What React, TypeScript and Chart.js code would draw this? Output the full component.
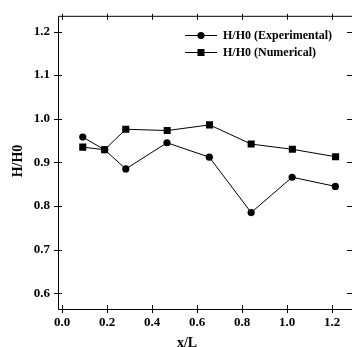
import React, { useEffect, useRef } from "react";
import { Chart, registerables } from "chart.js";

Chart.register(...registerables);

const xExperimental = [0.092, 0.189, 0.283, 0.466, 0.654, 0.840, 1.022, 1.214];
const yExperimental = [0.958, 0.929, 0.885, 0.945, 0.912, 0.785, 0.866, 0.845];
const xNumerical = [0.092, 0.189, 0.283, 0.467, 0.655, 0.840, 1.023, 1.215];
const yNumerical = [0.935, 0.929, 0.976, 0.973, 0.986, 0.942, 0.930, 0.913];
const xTicks = [0.0, 0.2, 0.4, 0.6, 0.8, 1.0, 1.2];
const yTicks = [0.6, 0.7, 0.8, 0.9, 1.0, 1.1, 1.2];
const seriesLabels = ["H/H0 (Experimental)", "H/H0 (Numerical)"];
const xTitle = "x/L";
const yTitle = "H/H0";

const FONT = "'Liberation Serif', 'Times New Roman', serif";

const framePlugin = {
  id: "frame",
  afterDraw(chart: any) {
    const { ctx, chartArea } = chart;
    const { left, right, top, bottom } = chartArea;
    const xs = chart.scales.x;
    const ys = chart.scales.y;
    ctx.save();
    ctx.strokeStyle = "#000";
    ctx.lineWidth = 1;
    ctx.beginPath();
    // frame
    ctx.moveTo(left + 0.5, top + 0.5);
    ctx.lineTo(right + 2, top + 0.5);
    ctx.moveTo(left + 0.5, top + 0.5);
    ctx.lineTo(left + 0.5, bottom + 0.5);
    ctx.lineTo(right + 2, bottom + 0.5);
    // x ticks
    xTicks.forEach((v) => {
      const px = Math.round(xs.getPixelForValue(v)) + 0.5;
      ctx.moveTo(px, bottom - 4);
      ctx.lineTo(px, bottom + 4);
      ctx.moveTo(px, top - 2);
      ctx.lineTo(px, top + 4);
    });
    // y ticks
    yTicks.forEach((v) => {
      const py = Math.round(ys.getPixelForValue(v)) + 0.5;
      ctx.moveTo(left - 4, py);
      ctx.lineTo(left + 4, py);
      ctx.moveTo(right - 3, py);
      ctx.lineTo(right + 2, py);
    });
    ctx.stroke();

    // axis titles
    ctx.fillStyle = "#000";
    ctx.font = `bold 14px ${FONT}`;
    ctx.textAlign = "center";
    ctx.textBaseline = "alphabetic";
    ctx.fillText(xTitle, 187, 347);
    ctx.save();
    ctx.translate(22, 161);
    ctx.rotate(-Math.PI / 2);
    ctx.fillText(yTitle, 0, 0);
    ctx.restore();

    // legend
    ctx.font = `bold 12px ${FONT}`;
    ctx.textAlign = "left";
    ctx.textBaseline = "middle";
    const rows = [35, 52];
    rows.forEach((y, i) => {
      ctx.beginPath();
      ctx.moveTo(185, y + 0.5);
      ctx.lineTo(217, y + 0.5);
      ctx.stroke();
      ctx.beginPath();
      if (i === 0) {
        ctx.arc(201, y + 0.5, 3.6, 0, Math.PI * 2);
      } else {
        ctx.rect(197.5, y - 3, 7, 7);
      }
      ctx.fill();
      ctx.fillText(seriesLabels[i], 223, y + 1);
    });
    ctx.restore();
  },
};

export default function App() {
  const ref = useRef<HTMLCanvasElement>(null);
  useEffect(() => {
    if (!ref.current) return;
    const chart = new Chart(ref.current, {
      type: "scatter",
      data: {
        datasets: [
          {
            label: seriesLabels[0],
            data: xExperimental.map((x, i) => ({ x, y: yExperimental[i] })),
            showLine: true,
            borderColor: "#000",
            backgroundColor: "#000",
            borderWidth: 1,
            pointStyle: "circle",
            pointRadius: 3.6,
            pointBorderWidth: 0,
          },
          {
            label: seriesLabels[1],
            data: xNumerical.map((x, i) => ({ x, y: yNumerical[i] })),
            showLine: true,
            borderColor: "#000",
            backgroundColor: "#000",
            borderWidth: 1,
            pointStyle: "rect",
            pointRadius: 5,
            pointBorderWidth: 0,
          },
        ],
      },
      options: {
        responsive: false,
        animation: false,
        layout: { padding: { top: 14, right: 0, left: 0, bottom: 0 } },
        plugins: { legend: { display: false }, tooltip: { enabled: false } },
        scales: {
          x: {
            type: "linear",
            min: -0.018,
            max: 1.279,
            afterFit: (s: any) => {
              s.height = 38;
            },
            afterBuildTicks: (s: any) => {
              s.ticks = xTicks.map((value) => ({ value }));
            },
            grid: { display: false, drawTicks: false },
            border: { display: false },
            ticks: {
              padding: 6,
              color: "#000",
              font: { family: FONT, size: 13, weight: "bold" },
              callback: (v: any) => Number(v).toFixed(1),
              maxRotation: 0,
              autoSkip: false,
            },
          },
          y: {
            type: "linear",
            min: 0.564,
            max: 1.236,
            afterFit: (s: any) => {
              s.width = 58;
            },
            afterBuildTicks: (s: any) => {
              s.ticks = yTicks.map((value) => ({ value }));
            },
            grid: { display: false, drawTicks: false },
            border: { display: false },
            ticks: {
              padding: 8,
              color: "#000",
              font: { family: FONT, size: 13, weight: "bold" },
              callback: (v: any) => Number(v).toFixed(1),
              autoSkip: false,
            },
          },
        },
      },
      plugins: [framePlugin],
    });
    return () => chart.destroy();
  }, []);
  return (
    <div style={{ position: "absolute", left: 0, top: 0, width: 355, height: 347, background: "#fff" }}>
      <canvas ref={ref} width={355} height={347} />
    </div>
  );
}
